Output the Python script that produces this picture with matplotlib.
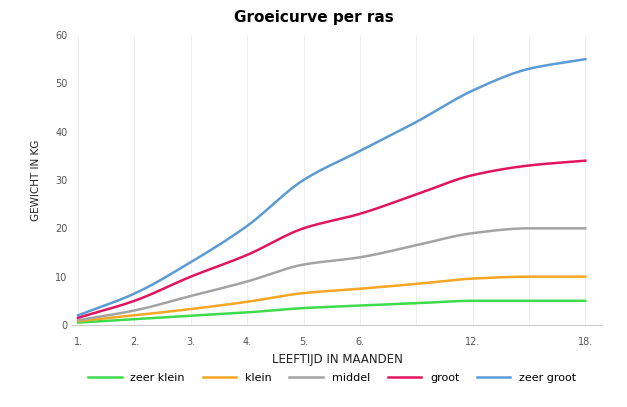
import numpy as np
import matplotlib
matplotlib.use("Agg")
import matplotlib.pyplot as plt

tick_labels = ["1.", "2.", "3.", "4.", "5.", "6.", "", "12.", "", "18."]
zeer_klein = [0.5, 1.2, 1.9, 2.6, 3.5, 4.0, 4.5, 5.0, 5.0, 5.0]
klein = [0.8, 2.0, 3.3, 4.8, 6.6, 7.5, 8.5, 9.6, 10.0, 10.0]
middel = [1.0, 3.0, 6.0, 9.0, 12.5, 14.0, 16.5, 19.0, 20.0, 20.0]
groot = [1.5, 5.0, 10.0, 14.5, 20.0, 23.0, 27.0, 31.0, 33.0, 34.0]
zeer_groot = [2.0, 6.5, 13.0, 20.5, 30.0, 36.0, 42.0, 48.5, 53.0, 55.0]

def pchip(x, y, xs):
    x = np.asarray(x, float); y = np.asarray(y, float)
    h = np.diff(x); d = np.diff(y) / h
    m = np.zeros_like(y)
    for k in range(1, len(y) - 1):
        if d[k-1] * d[k] > 0:
            w1 = 2*h[k] + h[k-1]; w2 = h[k] + 2*h[k-1]
            m[k] = (w1 + w2) / (w1/d[k-1] + w2/d[k])
    m[0] = d[0]; m[-1] = 0 if d[-1] == 0 else d[-1]
    out = []
    for t in xs:
        k = min(np.searchsorted(x, t, side="right") - 1, len(x) - 2)
        s = (t - x[k]) / h[k]
        h00 = 2*s**3 - 3*s**2 + 1; h10 = s**3 - 2*s**2 + s
        h01 = -2*s**3 + 3*s**2; h11 = s**3 - s**2
        out.append(h00*y[k] + h10*h[k]*m[k] + h01*y[k+1] + h11*h[k]*m[k+1])
    return np.array(out)

fig = plt.figure(figsize=(6.27, 4.07), dpi=100)
ax = fig.add_axes([0.1155, 0.2015, 0.845, 0.7125])
x = np.arange(len(tick_labels))
xs = np.linspace(0, len(x) - 1, 300)
series = [("zeer klein", zeer_klein, "#3ddc4a"), ("klein", klein, "#f5a623"),
          ("middel", middel, "#a3a3a3"), ("groot", groot, "#e2145e"),
          ("zeer groot", zeer_groot, "#5b9bd5")]
for name, ys, c in series:
    ax.plot(xs, pchip(x, ys, xs), color=c, lw=1.8, label=name)

ax.set_xlim(-0.1, 9.3)
ax.set_ylim(0, 60)
ax.set_yticks(range(0, 61, 10))
ax.set_xticks(x)
ax.set_xticklabels(tick_labels)
ax.tick_params(axis="both", length=0, labelsize=7, colors="#555555")
ax.tick_params(axis="x", pad=9)
ax.grid(axis="x", color="#eeeeee", lw=0.8)
for s in ["top", "right", "left"]:
    ax.spines[s].set_visible(False)
ax.spines["bottom"].set_color("#cccccc")
ax.set_xlabel("LEEFTIJD IN MAANDEN", fontsize=8.5, color="#222222", labelpad=4)
ax.set_ylabel("GEWICHT IN KG", fontsize=7.5, color="#222222", labelpad=10)
fig.suptitle("Groeicurve per ras", fontsize=11, fontweight="bold", y=0.975)
fig.legend(loc="lower center", ncol=5, frameon=False, fontsize=8,
           bbox_to_anchor=(0.53, 0.035), handlelength=3, columnspacing=1.6)
fig.savefig("out.png", dpi=100)
